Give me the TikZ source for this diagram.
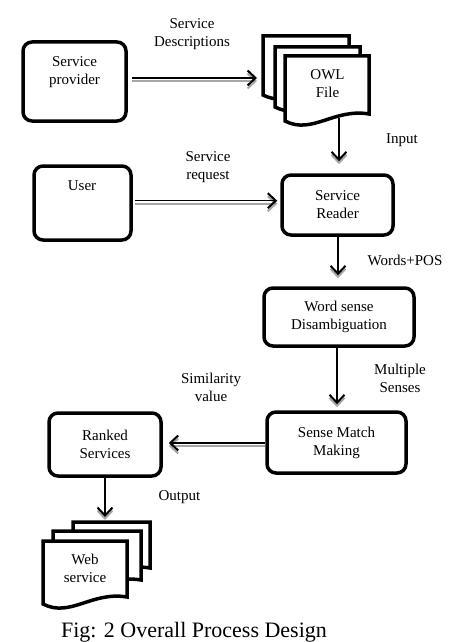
\documentclass[tikz,border=0pt]{standalone}
\usepackage{fontspec}
\setmainfont{Liberation Serif}
\usetikzlibrary{arrows.meta,calc}
\newcommand\mydocpage[1]{\draw[page] (#1.north west) -- (#1.north east) -- ($(#1.south east)+(0,-7)$) .. controls ($(#1.south east)+(-35,-13)$) and ($(#1.south west)+(27,14)$) .. (#1.south west) -- cycle;}
\begin{document}
\begin{tikzpicture}[x=1pt,y=-1pt,
  box/.style={draw, line width=3.5pt, rounded corners=9pt, inner sep=0pt, font=\fontsize{15}{18}\selectfont, align=center},
  txt/.style={font=\fontsize{15}{18}\selectfont, align=center, inner sep=0pt},
  ghost/.style={inner sep=0pt, outer sep=0pt},
  page/.style={draw, fill=white, line width=3.5pt, line join=miter},
  arr/.style={line width=1.5pt, -{Straight Barb[length=8pt,width=15pt,line width=2pt]}, preaction={draw=gray!70, line width=2pt, transform canvas={yshift=-3pt}}},
]
\useasboundingbox (0,0) rectangle (473,642);

% boxes
\node[box, minimum width=103, minimum height=79] (sp) at (74.5,81.5) {};
\node[txt] (sptxt) at (74.5,72) {Service\\provider};
\node[box, minimum width=97, minimum height=74] (user) at (82.5,203) {};
\node[txt] (usertxt) at (82,186) {User};
\node[box, minimum width=111, minimum height=60] (sr) at (337.5,205) {Service\\Reader};
\node[box, minimum width=150, minimum height=58] (wsd) at (339,317) {Word sense\\Disambiguation};
\node[box, minimum width=139, minimum height=61] (smm) at (336.5,442.5) {Sense Match\\Making};
\node[box, minimum width=112, minimum height=63] (rs) at (105,444.5) {Ranked\\Services};

% document stacks
\node[ghost, minimum width=86, minimum height=59] (owl1) at (306,65.5) {};
\node[ghost, minimum width=85, minimum height=60] (owl2) at (317.5,77) {};
\node[ghost, minimum width=84, minimum height=65] (owl3) at (327,88.5) {};
\mydocpage{owl1}
\mydocpage{owl2}
\mydocpage{owl3}
\node[txt] (owltxt) at (327.5,83.5) {OWL\\File};

\node[ghost, minimum width=77, minimum height=53] (web1) at (111.5,548.5) {};
\node[ghost, minimum width=88, minimum height=56] (web2) at (97,559) {};
\node[ghost, minimum width=84, minimum height=63] (web3) at (85,572.5) {};
\mydocpage{web1}
\mydocpage{web2}
\mydocpage{web3}
\node[txt] (webtxt) at (85,568) {Web\\service};

% connectors
\draw[arr] ($(sp.east)+(4.5,-3.5)$) -- ($(owl1.west |- sp.east)+(-6,-3.5)$);
\draw[arr] ($(user.east)+(2,-2.3)$) -- ($(sr.west |- user.east)+(-3,-2.3)$);
\draw[arr] ($(smm.west)+(0,0.5)$) -- ($(rs.east |- smm.west)+(6,0.5)$);
\draw[arr] ($(owl3.south -| sr.north)+(1.5,-3)$) -- ($(sr.north)+(1.5,-12)$);
\draw[arr] ($(sr.south)+(0.5,0)$) -- ($(wsd.north -| sr.south)+(0.5,-11)$);
\draw[arr] ($(wsd.south)+(-2,0)$) -- ($(smm.north -| wsd.south)+(-2,-6)$);
\draw[arr] (rs.south) -- ($(web1.north -| rs.south)+(0,-5)$);

% labels
\node[txt] (l1) at (192,34) {Service\\Descriptions};
\node[txt] (l2) at (402,140) {Input};
\node[txt] (l3) at (208,167) {Service\\request};
\node[txt] (l4) at (405,260.5) {Words+POS};
\node[txt] (l5) at (400,378) {Multiple\\Senses};
\node[txt] (l6) at (211,387.5) {Similarity\\value};
\node[txt] (l7) at (179.5,497) {Output};
\node[font=\fontsize{22}{26}\selectfont, anchor=base, inner sep=0pt] (cap) at (194,637) {Fig: 2 Overall Process Design};
\end{tikzpicture}
\end{document}
